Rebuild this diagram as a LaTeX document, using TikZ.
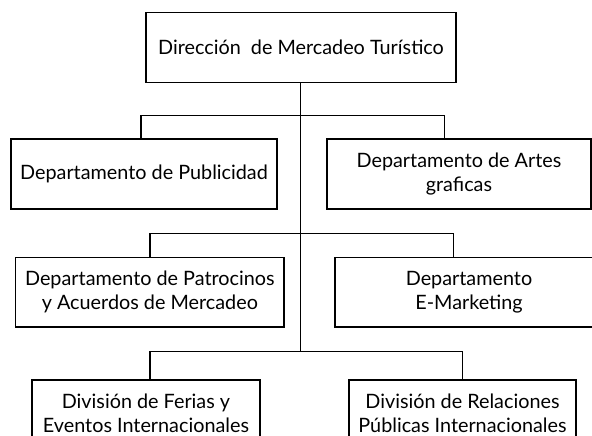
\documentclass[tikz,border=0pt]{standalone}
\usepackage{fontspec}
\setmainfont{Lato}
\begin{document}
\begin{tikzpicture}[x=1pt,y=-1pt,
  box/.style={draw, line width=1.1pt, inner sep=0pt, align=center,
    font=\fontsize{19.8}{24}\selectfont},
  conn/.style={line width=1.1pt}]
\useasboundingbox (0,0) rectangle (592,436);
\clip (0,0) rectangle (592,436);
% drop positions
\coordinate (xa1) at (141,0);
\coordinate (xb1) at (444.7,0);
\coordinate (xa2) at (150,0);
\coordinate (xb2) at (453.5,0);
\coordinate (xa3) at (150,0);
\coordinate (xb3) at (462.7,0);
\coordinate (trunk) at (300.5,352);
% boxes
\node[box, minimum width=310pt, minimum height=70pt] (top) at (301,47.7) {Dirección\ \ de Mercadeo Turístico};
\node[box, minimum width=266pt, minimum height=70pt] (a1) at (144,174) {Departamento de Publicidad};
\node[box, minimum width=264pt, minimum height=70pt] (b1) at (459,174) {Departamento de Artes\\graficas};
\node[box, minimum width=268.3pt, minimum height=69.3pt] (a2) at (149.85,292.35) {Departamento de Patrocinos\\y Acuerdos de Mercadeo};
\node[box, minimum width=268pt, minimum height=69.3pt] (b2) at (469,292.35) {Departamento\\E-Marketing};
\node[box, minimum width=228pt, minimum height=66pt] (a3) at (146,413) {División de Ferias y\\Eventos Internacionales};
\node[box, minimum width=227pt, minimum height=66pt] (b3) at (462.5,413) {División de Relaciones\\Públicas Internacionales};
% connectors
\draw[conn] (top.south -| trunk) -- (trunk);
\draw[conn] (a1.north -| xa1) -- ++(0,-23.3) -| (b1.north -| xb1);
\draw[conn] (a2.north -| xa2) -- ++(0,-23.4) -| (b2.north -| xb2);
\draw[conn] (a3.north -| xa3) -- ++(0,-28) -| (b3.north -| xb3);
\end{tikzpicture}
\end{document}
